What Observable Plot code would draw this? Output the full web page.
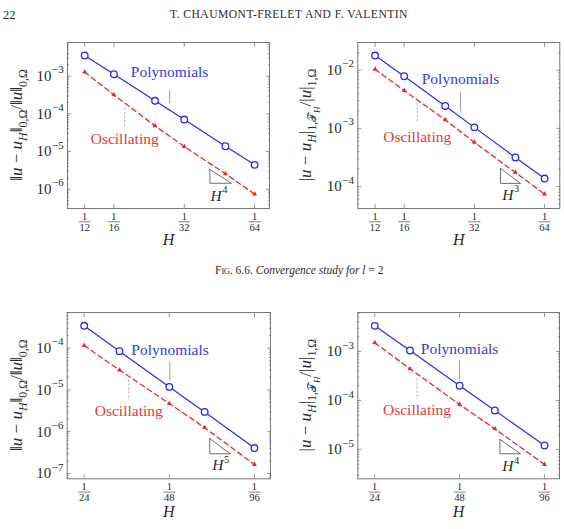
<!DOCTYPE html>
<html>
<head>
<meta charset="utf-8">
<script src="https://cdn.jsdelivr.net/npm/d3@7"></script>
<script src="https://cdn.jsdelivr.net/npm/@observablehq/plot@0.6"></script>
<style>
  body { margin: 0; background: #fff; }
  #page { position: relative; width: 564px; height: 529px; overflow: hidden;
          font-family: "Liberation Serif", "DejaVu Serif", serif; color: #2b2b2b; }
  .abs { position: absolute; white-space: nowrap; line-height: 1; }
  .panel { position: absolute; }
</style>
</head>
<body>
<div id="page">
  <div class="abs" style="left:3px;top:9px;font-size:12.5px;">22</div>
  <div class="abs" style="left:170px;top:9px;font-size:11.6px;letter-spacing:0.45px;">T. CHAUMONT-FRELET AND F. VALENTIN</div>
  <div class="abs" style="left:215px;top:265px;font-size:11.5px;"><span style="font-variant:small-caps;">Fig. 6.6.</span> <i>Convergence study for</i> <i>l</i> = 2</div>
</div>
<script>
// Mesh sizes H = 1/n used in the convergence study
const meshTop = [12, 16, 24, 32, 48, 64];
const meshBottom = [24, 32, 48, 64, 96];

// Relative L2 error, first study
const l2PolyTop = [3.54e-3, 1.13e-3, 2.22e-4, 7.06e-5, 1.38e-5, 4.44e-6];
const l2OscTop  = [1.28e-3, 3.2e-4, 4.8e-5, 1.36e-5, 2.57e-6, 7.4e-7];
// Relative broken H1 error, first study
const h1PolyTop = [1.79e-2, 7.88e-3, 2.43e-3, 1.04e-3, 3.16e-4, 1.37e-4];
const h1OscTop  = [1.04e-2, 4.47e-3, 1.40e-3, 5.74e-4, 1.74e-4, 7.4e-5];
// Relative L2 error, second study
const l2PolyBottom = [3.43e-4, 8.48e-5, 1.18e-5, 2.98e-6, 4.06e-7];
const l2OscBottom  = [1.16e-4, 2.98e-5, 4.73e-6, 1.25e-6, 1.64e-7];
// Relative broken H1 error, second study
const h1PolyBottom = [3.34e-3, 1.05e-3, 2.0e-4, 6.25e-5, 1.21e-5];
const h1OscBottom  = [1.51e-3, 4.44e-4, 8.29e-5, 2.64e-5, 4.94e-6];

// Tick values (x ticks are the denominators n of H = 1/n)
const xTicksTop = [12, 16, 32, 64];
const xTicksBottom = [24, 48, 96];
const yTicksTL = [1e-6, 1e-5, 1e-4, 1e-3];
const yTicksTR = [1e-4, 1e-3, 1e-2];
const yTicksBL = [1e-7, 1e-6, 1e-5, 1e-4];
const yTicksBR = [1e-5, 1e-4, 1e-3];

// Callouts: label anchor and pin extent, in data units
const calloutsTL = [
  {series: "poly", label: "Polynomials", n: 27.7, v: 1.25e-3, pinN: 27.7, pinFrom: 4.17e-4, pinTo: 1.89e-4},
  {series: "osc", label: "Oscillating", n: 17.8, v: 2.1e-5, pinN: 17.8, pinFrom: 1.39e-4, pinTo: 4.35e-5}
];
const calloutsTR = [
  {series: "poly", label: "Polynomials", n: 27.9, v: 6.92e-3, pinN: 27.9, pinFrom: 4.18e-3, pinTo: 1.96e-3},
  {series: "osc", label: "Oscillating", n: 18.2, v: 7.0e-4, pinN: 18.2, pinFrom: 2.67e-3, pinTo: 1.21e-3}
];
const calloutsBL = [
  {series: "poly", label: "Polynomials", n: 48.3, v: 9.06e-5, pinN: 48.2, pinFrom: 4.63e-5, pinTo: 1.63e-5},
  {series: "osc", label: "Oscillating", n: 34.5, v: 3.15e-6, pinN: 34.5, pinFrom: 1.75e-5, pinTo: 5.61e-6}
];
const calloutsBR = [
  {series: "poly", label: "Polynomials", n: 48.0, v: 1.14e-3, pinN: 48.0, pinFrom: 6.55e-4, pinTo: 2.64e-4},
  {series: "osc", label: "Oscillating", n: 33.9, v: 6.25e-5, pinN: 33.9, pinFrom: 2.77e-4, pinTo: 1.03e-4}
];

// Slope triangles: H^order between n0 and n1, resting on error level base
const slopeTL = {n0: 41.2, n1: 50.9, base: 1.44e-6, order: 4, labelN: 44.9, labelV: 6.8e-7};
const slopeTR = {n0: 41.4, n1: 50.5, base: 1.13e-4, order: 3, labelN: 45.7, labelV: 7.2e-5};
const slopeBL = {n0: 66.7, n1: 78.9, base: 2.96e-7, order: 5, labelN: 72.8, labelV: 1.56e-7};
const slopeBR = {n0: 66.7, n1: 78.9, base: 8.17e-6, order: 4, labelN: 72.7, labelV: 4.56e-6};

// Axis titles, as runs of text (i: italic, sub: subscript level)
const l2Title = [
  {t: "‖"}, {t: "u", i: 1}, {t: " − "}, {t: "u", i: 1}, {t: "H", i: 1, sub: 1}, {t: "‖"},
  {t: "0,Ω", sub: 1}, {t: "/‖"}, {t: "u", i: 1}, {t: "‖"}, {t: "0,Ω", sub: 1}
];
const h1Title = [
  {t: "|"}, {t: "u", i: 1}, {t: " − "}, {t: "u", i: 1}, {t: "H", i: 1, sub: 1}, {t: "|"},
  {t: "1,", sub: 1}, {t: "𝒯", sub: 1}, {t: "H", i: 1, sub: 2}, {t: "/|"}, {t: "u", i: 1}, {t: "|"},
  {t: "1,Ω", sub: 1}
];

const serif = "'Liberation Serif', 'DejaVu Serif', serif";
const ink = "#2b2b2b";
const frameColor = "#6a6a6a";
const blue = "#2a2ae6", red = "#e62a2a";
const blueText = "#3a3ad8", redText = "#e23a3a";

// Horizontal bar used as a fraction line under tick numerators
const fractionBar = {
  draw(context, size) {
    const w = Math.sqrt(size / Math.PI);
    context.moveTo(-w, 0);
    context.lineTo(w, 0);
  }
};

function minorTicks([lo, hi]) {
  const out = [];
  for (let k = Math.floor(Math.log10(lo)); k <= Math.ceil(Math.log10(hi)); ++k) {
    for (let m = 2; m <= 9; ++m) {
      const v = m * Math.pow(10, k);
      if (v > lo && v < hi) out.push(v);
    }
  }
  return out;
}

function triangle({n0, n1, base, order}) {
  const top = base * Math.pow(n1 / n0, order);
  return [{n: n0, v: top}, {n: n0, v: base}, {n: n1, v: base}, {n: n0, v: top}];
}

function addTitle(svg, parts, x, y, size) {
  const text = d3.select(svg).append("text")
    .attr("transform", `translate(${x},${y}) rotate(-90)`)
    .attr("text-anchor", "middle")
    .attr("fill", ink)
    .attr("font-family", serif)
    .attr("font-size", size);
  let shift = 0;
  for (const p of parts) {
    const target = p.sub === 2 ? 0.5 * size : p.sub ? 0.3 * size : 0;
    const fs = p.sub === 2 ? 0.52 * size : p.sub ? 0.7 * size : size;
    text.append("tspan")
      .attr("dy", target - shift)
      .attr("font-size", fs)
      .attr("font-style", p.i ? "italic" : null)
      .text(p.t);
    shift = target;
  }
}

function panel(cfg) {
  const {width, height, margins, xDomain, yDomain, n, poly, osc, xTicks, yTicks, callouts, slope, hOffset} = cfg;
  const minor = minorTicks(yDomain);
  const tick = {stroke: frameColor, strokeWidth: 0.7, tickFormat: () => "", label: null};
  const below = {frameAnchor: "bottom", lineAnchor: "middle", fill: ink};
  const svg = Plot.plot({
    width, height, ...margins,
    x: {type: "log", domain: xDomain},
    y: {type: "log", domain: yDomain},
    style: {fontFamily: serif, background: "transparent", color: ink, overflow: "visible"},
    marks: [
      // ticks inside the frame on all four sides
      Plot.axisY(yTicks, {anchor: "left", tickSize: -4, ...tick}),
      Plot.axisY(yTicks, {anchor: "right", tickSize: -4, ...tick}),
      Plot.axisY(minor, {anchor: "left", tickSize: -2, ...tick}),
      Plot.axisY(minor, {anchor: "right", tickSize: -2, ...tick}),
      Plot.axisX(xTicks, {anchor: "bottom", tickSize: -4, ...tick}),
      Plot.axisX(xTicks, {anchor: "top", tickSize: -4, ...tick}),
      Plot.frame({stroke: frameColor, strokeWidth: 0.9}),
      // y tick labels 10^k
      Plot.text(yTicks, {y: d => d, frameAnchor: "left", lineAnchor: "middle", text: () => "10", textAnchor: "end", dx: -16, fontSize: 15, fill: ink}),
      Plot.text(yTicks, {y: d => d, frameAnchor: "left", lineAnchor: "middle", text: d => "−" + Math.round(-Math.log10(d)), textAnchor: "start", dx: -15.5, dy: -6.5, fontSize: 11, fill: ink}),
      // x tick labels 1/n
      Plot.text(xTicks, {x: d => d, ...below, text: () => "1", dy: 8, fontSize: 10.5}),
      Plot.dot(xTicks, {x: d => d, frameAnchor: "bottom", dy: 13.3, symbol: fractionBar, r: 6, stroke: ink, strokeWidth: 0.6, fill: "none"}),
      Plot.text(xTicks, {x: d => d, ...below, text: d => String(d), dy: 19.3, fontSize: 10.5}),
      Plot.text(["H"], {...below, text: d => d, dy: hOffset, fontSize: 16, fontStyle: "italic"}),
      // slope triangle and its order
      Plot.line(triangle(slope), {x: "n", y: "v", stroke: "#4a4a4a", strokeWidth: 0.8}),
      Plot.text([slope], {x: "labelN", y: "labelV", text: () => "H", textAnchor: "end", dx: 3, fontSize: 15.5, fontStyle: "italic", fill: ink}),
      Plot.text([slope], {x: "labelN", y: "labelV", text: d => String(d.order), textAnchor: "start", dx: 3.5, dy: -6, fontSize: 10.5, fill: ink}),
      // callout pins
      Plot.ruleX(callouts.filter(d => d.series === "poly"), {x: "pinN", y1: "pinFrom", y2: "pinTo", stroke: "#777", strokeWidth: 0.7}),
      Plot.ruleX(callouts.filter(d => d.series === "osc"), {x: "pinN", y1: "pinFrom", y2: "pinTo", stroke: "#999", strokeWidth: 0.7, strokeDasharray: "2.5,1.5"}),
      // oscillating series
      Plot.line(osc, {x: (d, i) => n[i], y: d => d, stroke: red, strokeWidth: 1.3, strokeDasharray: "5,3.5"}),
      Plot.dot(osc, {x: (d, i) => n[i], y: d => d, symbol: "triangle2", r: 2.4, fill: red, stroke: "none", rotate: 126}),
      // polynomial series
      Plot.line(poly, {x: (d, i) => n[i], y: d => d, stroke: blue, strokeWidth: 1.2}),
      Plot.dot(poly, {x: (d, i) => n[i], y: d => d, r: 3.3, stroke: blue, strokeWidth: 1.3, fill: "white"}),
      // callout labels
      Plot.text(callouts, {x: "n", y: "v", text: "label", fontSize: 15.5, fill: d => d.series === "poly" ? blueText : redText})
    ]
  });
  const midY = margins.marginTop + (height - margins.marginTop - margins.marginBottom) / 2;
  return {svg, midY};
}

const layout = [
  {left: 0, top: 30, width: 282, height: 230,
   margins: {marginTop: 12, marginBottom: 52, marginLeft: 67, marginRight: 13},
   xDomain: [10.13, 74.1], yDomain: [3.08e-7, 7.83e-3], hOffset: 31,
   n: meshTop, poly: l2PolyTop, osc: l2OscTop, xTicks: xTicksTop, yTicks: yTicksTL,
   callouts: calloutsTL, slope: slopeTL, title: l2Title, titleX: 22, titleSize: 17},
  {left: 282, top: 30, width: 282, height: 230,
   margins: {marginTop: 12, marginBottom: 52, marginLeft: 75.3, marginRight: 4.7},
   xDomain: [10.12, 74.4], yDomain: [4.18e-5, 3.0e-2], hOffset: 31,
   n: meshTop, poly: h1PolyTop, osc: h1OscTop, xTicks: xTicksTop, yTicks: yTicksTR,
   callouts: calloutsTR, slope: slopeTR, title: h1Title, titleX: 29, titleSize: 17},
  {left: 0, top: 300, width: 282, height: 229,
   margins: {marginTop: 12, marginBottom: 50.7, marginLeft: 66.7, marginRight: 12},
   xDomain: [20.9, 109.4], yDomain: [7.46e-8, 7.14e-4], hOffset: 33,
   n: meshBottom, poly: l2PolyBottom, osc: l2OscBottom, xTicks: xTicksBottom, yTicks: yTicksBL,
   callouts: calloutsBL, slope: slopeBL, title: l2Title, titleX: 22, titleSize: 17},
  {left: 282, top: 300, width: 282, height: 229,
   margins: {marginTop: 12, marginBottom: 50.7, marginLeft: 75.3, marginRight: 5},
   xDomain: [20.9, 108.5], yDomain: [2.52e-6, 6.25e-3], hOffset: 33,
   n: meshBottom, poly: h1PolyBottom, osc: h1OscBottom, xTicks: xTicksBottom, yTicks: yTicksBR,
   callouts: calloutsBR, slope: slopeBR, title: h1Title, titleX: 29, titleSize: 17}
];

const page = document.getElementById("page");
for (const cfg of layout) {
  const holder = document.createElement("div");
  holder.className = "panel";
  holder.style.left = cfg.left + "px";
  holder.style.top = cfg.top + "px";
  const {svg, midY} = panel(cfg);
  holder.appendChild(svg);
  page.appendChild(holder);
  addTitle(svg, cfg.title, cfg.titleX, midY, cfg.titleSize);
}
</script>
</body>
</html>
